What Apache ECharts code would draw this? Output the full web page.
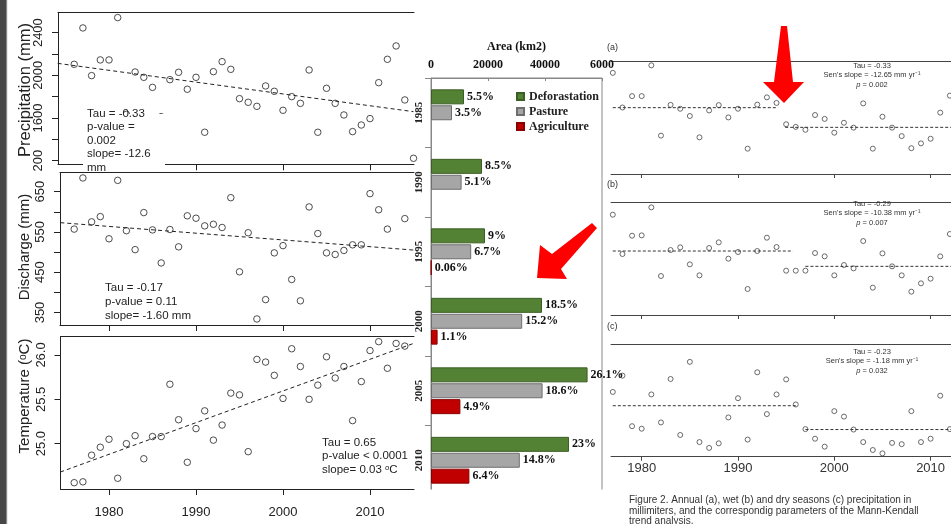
<!DOCTYPE html>
<html>
<head>
<meta charset="utf-8">
<script src="https://cdn.jsdelivr.net/npm/echarts@6/dist/echarts.min.js"></script>
<style>
  html, body { margin: 0; padding: 0; background: #fff; }
  #chart { width: 951px; height: 524px; }
</style>
</head>
<body>
<div id="chart"></div>
<script>
// ---- Hydro-climatic series, 1976-2015 ----
const years = [1976, 1977, 1978, 1979, 1980, 1981, 1982, 1983, 1984, 1985,
               1986, 1987, 1988, 1989, 1990, 1991, 1992, 1993, 1994, 1995,
               1996, 1997, 1998, 1999, 2000, 2001, 2002, 2003, 2004, 2005,
               2006, 2007, 2008, 2009, 2010, 2011, 2012, 2013, 2014, 2015];

const precipitation = [2103, 2444, 1997, 2144, 2144, 2541, 1634, 2031, 1981, 1887,
                       1612, 1959, 2028, 1869, 1981, 1466, 2034, 2128, 2056, 1781,
                       1747, 1709, 1900, 1850, 1672, 1800, 1737, 2050, 1466, 1878,
                       1737, 1628, 1472, 1534, 1594, 1931, 2150, 2275, 1769, 1222];

const discharge = [557, 684, 575, 588, 533, 678, 553, 506, 598, 555,
                   473, 556, 513, 590, 584, 565, 569, 561, 635, 451,
                   548, 334, 382, 498, 516, 432, 379, 612, 546, 498,
                   494, 504, 518, 518, 645, 605, 557, null, 583, null];

const temperature = [24.56, 24.57, 24.87, 24.96, 25.05, 24.61, 25.00, 25.09, 24.83, 25.08,
                     25.08, 25.67, 25.27, 24.79, 25.17, 25.37, 25.04, 25.21, 25.57, 25.55,
                     24.91, 25.95, 25.92, 25.77, 25.51, 26.07, 25.87, 25.50, 25.66, 25.98,
                     25.74, 25.87, 25.26, 25.70, 26.05, 26.15, 25.85, 26.13, 26.10, null];

// Sen's-slope trend lines (start / end of the fitted line)
const precipTrendYears = [1974.1, 2015.0];
const precipTrend = [2112, 1659];
const dischargeTrendYears = [1974.4, 2015.0];
const dischargeTrend = [573, 505];
const temperatureTrendYears = [1974.4, 2015.0];
const temperatureTrend = [24.68, 26.13];

// Axis ticks and labels of the three left plots
const yearTicks = [1980, 1990, 2000, 2010];
const precipTicks = [1200, 1400, 1600, 1800, 2000, 2200, 2400];
const precipLabels = [1200, 1600, 2000, 2400];
const dischargeTicks = [350, 400, 450, 500, 550, 600, 650];
const dischargeLabels = [350, 450, 550, 650];
const temperatureTicks = [25.0, 25.5, 26.0];

// ---- Land-use change (percent of basin area) ----
const landUseYears = ['1985', '1990', '1995', '2000', '2005', '2010'];
const deforestationPct = [5.5, 8.5, 9, 18.5, 26.1, 23];
const pasturePct = [3.5, 5.1, 6.7, 15.2, 18.6, 14.8];
const agriculturePct = [null, null, 0.06, 1.1, 4.9, 6.4];
const KM2_PER_PCT = 2105;          // basin area / 100
const areaTicks = [0, 20000, 40000, 60000];

// ---- Seasonal precipitation 1977-2012 (wet / dry season, mm) ----
const seasonYears = years.slice(1, 37);
const wetSeason = [1912, 1440, 1660, 1664, 2000, 1176, 1488, 1520, 1316, 1184,
                   1512, 1580, 1384, 1464, 1020, 1476, 1636, 1524, 1240, 1240,
                   1240, 1452, 1412, 1184, 1308, 1268, 1596, 1036, 1448, 1292,
                   1184, 988, 1088, 1144, 1412, 1680];
const drySeason = [488, 527, 406, 400, 482, 415, 519, 385, 560, 368,
                   354, 365, 427, 473, 374, 535, 435, 482, 518, 458,
                   399, 376, 357, 442, 429, 398, 368, 349, 341, 366,
                   363, 442, 368, 376, 479, 399];

// Sub-period means either side of the change point
const annualSegYears = [[1977, 1994.0], [1994.9, 2012.2]];
const annualSegMeans = [1995, 1741];
const wetSegYears = [[1977, 1995.7], [1997, 2012.2]];
const wetSegMeans = [1476, 1292];
const drySegYears = [[1977, 1996.1], [1997, 2012.2]];
const drySegMeans = [455, 398];

// ------------------------------------------------------------------
const SANS = "'Liberation Sans', Arial, sans-serif";
const SERIF = "'Liberation Serif', 'Times New Roman', serif";
const INK = '#222';
const plain = v => String(v);

const grid = [], xAxis = [], yAxis = [], series = [];

function pair(xs, ys) {
  const out = [];
  xs.forEach((x, i) => { if (ys[i] != null) out.push([x, ys[i]]); });
  return out;
}

// Left plots: 1980 sits at x=109 px, 8.7 px per year, right edge at 414 px
function leftPlot(cfg) {
  const g = grid.length;
  const left = cfg.left, right = 414;
  const xmin = 1980 - (109 - left) / 8.7, xmax = 1980 + (right - 109) / 8.7;
  grid.push({ left: left, top: cfg.top, width: right - left, height: cfg.height });
  const xb = xAxis.length;
  xAxis.push({
    gridIndex: g, type: 'value', min: xmin, max: xmax, position: 'bottom',
    axisLine: { show: true, onZero: false, lineStyle: { color: INK, width: 1 } },
    axisTick: { show: true, customValues: yearTicks, length: 6, lineStyle: { color: INK } },
    axisLabel: { show: cfg.showYears, customValues: yearTicks, margin: 17, formatter: plain,
                 fontFamily: SANS, fontSize: 13, color: INK },
    splitLine: { show: false }
  });
  xAxis.push({
    gridIndex: g, type: 'value', min: xmin, max: xmax, position: 'top',
    axisLine: { show: true, onZero: false, lineStyle: { color: INK, width: 1 } },
    axisTick: { show: false }, axisLabel: { show: false }, splitLine: { show: false }
  });
  const yi = yAxis.length;
  yAxis.push({
    gridIndex: g, type: 'value', min: cfg.ymin, max: cfg.ymax,
    axisLine: { show: true, onZero: false, lineStyle: { color: INK, width: 1 } },
    axisTick: { show: true, customValues: cfg.ticks, length: 6, lineStyle: { color: INK } },
    axisLabel: { customValues: cfg.labels, rotate: 90, margin: 13, fontFamily: SANS,
                 fontSize: 13, color: INK, formatter: cfg.fmt },
    splitLine: { show: false }
  });
  series.push({
    type: 'scatter', xAxisIndex: xb, yAxisIndex: yi, clip: true, silent: true,
    data: pair(years, cfg.values), symbol: 'circle', symbolSize: 6.5,
    itemStyle: { color: 'rgba(0,0,0,0)', borderColor: INK, borderWidth: 1 }
  });
  series.push({
    type: 'line', xAxisIndex: xb, yAxisIndex: yi, silent: true, symbol: 'none',
    data: pair(cfg.trendYears, cfg.trend),
    lineStyle: { color: INK, width: 1, type: [4, 3] }
  });
}

leftPlot({ left: 58, top: 12.3, height: 152, ymin: 1165.6, ymax: 2590.6,
           ticks: precipTicks, labels: precipLabels, values: precipitation,
           trendYears: precipTrendYears, trend: precipTrend, showYears: false,
           fmt: v => (v === 1200 ? '200' : String(v)) });
leftPlot({ left: 60, top: 172.7, height: 152.3, ymin: 319, ymax: 697,
           ticks: dischargeTicks, labels: dischargeLabels, values: discharge,
           trendYears: dischargeTrendYears, trend: dischargeTrend, showYears: false,
           fmt: plain });
leftPlot({ left: 60.5, top: 336.7, height: 152.3, ymin: 24.489, ymax: 26.206,
           ticks: temperatureTicks, labels: temperatureTicks, values: temperature,
           trendYears: temperatureTrendYears, trend: temperatureTrend, showYears: true,
           fmt: v => v.toFixed(1) });

// ---- Land-use bar chart ----
const barGrid = grid.length;
grid.push({ left: 431, top: 78, width: 171, height: 417, show: true,
            borderColor: '#888', borderWidth: 1, backgroundColor: 'transparent' });
const barX = xAxis.length;
xAxis.push({
  gridIndex: barGrid, type: 'value', position: 'top', min: 0, max: 60000, interval: 20000,
  name: 'Area (km2)', nameLocation: 'middle', nameGap: 25,
  nameTextStyle: { fontFamily: SERIF, fontWeight: 'bold', fontSize: 12, color: '#111' },
  axisLine: { show: true, lineStyle: { color: '#888' } },
  axisTick: { show: true, inside: true, length: 3, lineStyle: { color: '#888' } },
  axisLabel: { margin: 7, fontFamily: SERIF, fontWeight: 'bold', fontSize: 12, color: '#111',
               customValues: areaTicks,
               formatter: v => (v === 60000 ? '6000' : String(v)) },
  splitLine: { show: false }
});
const barY = yAxis.length;
yAxis.push({
  gridIndex: barGrid, type: 'category', data: landUseYears, inverse: true,
  axisLine: { show: true, lineStyle: { color: '#888' } },
  axisTick: { show: true, length: 6, alignWithLabel: false, lineStyle: { color: '#888' } },
  axisLabel: { rotate: 90, margin: 6, fontFamily: SERIF, fontWeight: 'bold', fontSize: 11, color: '#222' },
  splitLine: { show: false }
});

function landUseSeries(name, pct, fill, edge) {
  series.push({
    type: 'bar', name: name, xAxisIndex: barX, yAxisIndex: barY, silent: true,
    data: pct.map(p => (p == null ? null : p * KM2_PER_PCT)),
    barWidth: 15, barGap: '6%',
    itemStyle: { color: fill, borderColor: edge, borderWidth: 1 },
    label: {
      show: true, position: 'right', distance: 3,
      formatter: p => pct[p.dataIndex] + '%',
      fontFamily: SERIF, fontWeight: 'bold', fontSize: 12, color: '#111'
    }
  });
}
landUseSeries('Deforastation', deforestationPct, '#548235', '#3b5e24');
landUseSeries('Pasture', pasturePct, '#a6a6a6', '#6e6e6e');
landUseSeries('Agriculture', agriculturePct, '#c00000', '#8a0000');

// ---- Seasonal panels (a), (b), (c): 1980 at 641.7 px, 9.63 px per year ----
function seasonPlot(cfg) {
  const g = grid.length;
  const left = 611, right = 951;
  const xmin = 1980 - (641.7 - left) / 9.63, xmax = 1980 + (right - 641.7) / 9.63;
  grid.push({ left: left, top: cfg.top, width: right - left, height: cfg.height });
  const xb = xAxis.length;
  xAxis.push({
    gridIndex: g, type: 'value', min: xmin, max: xmax, position: 'bottom',
    axisLine: { show: true, onZero: false, lineStyle: { color: '#444', width: 1 } },
    axisTick: { show: true, customValues: yearTicks, length: 4, lineStyle: { color: '#444' } },
    axisLabel: { show: cfg.showYears, customValues: yearTicks, margin: 5, formatter: plain,
                 fontFamily: SANS, fontSize: 13, color: '#333' },
    splitLine: { show: false }
  });
  xAxis.push({
    gridIndex: g, type: 'value', min: xmin, max: xmax, position: 'top',
    axisLine: { show: true, onZero: false, lineStyle: { color: '#444', width: 1 } },
    axisTick: { show: false }, axisLabel: { show: false }, splitLine: { show: false }
  });
  const yi = yAxis.length;
  yAxis.push({ gridIndex: g, type: 'value', min: cfg.ymin, max: cfg.ymax, show: false,
               splitLine: { show: false } });
  series.push({
    type: 'scatter', xAxisIndex: xb, yAxisIndex: yi, clip: true, silent: true,
    data: pair(cfg.years, cfg.values), symbol: 'circle', symbolSize: 5,
    itemStyle: { color: 'rgba(0,0,0,0)', borderColor: '#333', borderWidth: 0.9 }
  });
  cfg.segYears.forEach((span, i) => {
    series.push({
      type: 'line', xAxisIndex: xb, yAxisIndex: yi, silent: true, symbol: 'none', clip: true,
      data: span.map(x => [x, cfg.segMeans[i]]),
      lineStyle: { color: '#333', width: 1, type: [3, 2] }
    });
  });
}
seasonPlot({ top: 61, height: 113, ymin: 1139, ymax: 2597, years: years, values: precipitation,
             segYears: annualSegYears, segMeans: annualSegMeans, showYears: false });
seasonPlot({ top: 202.7, height: 112.3, ymin: 708, ymax: 2056, years: seasonYears, values: wetSeason,
             segYears: wetSegYears, segMeans: wetSegMeans, showYears: false });
seasonPlot({ top: 344.3, height: 112.4, ymin: 333, ymax: 602, years: seasonYears, values: drySeason,
             segYears: drySegYears, segMeans: drySegMeans, showYears: true });

// ---- Text, panel furniture and arrows ----
function mkStats(cx, y0, tau, slope, p) {
  const st = { fontFamily: SANS, fontSize: 7.5, fill: '#333', align: 'center', verticalAlign: 'middle' };
  return [
    { type: 'text', x: cx, y: y0, z: 60, style: Object.assign({ text: 'Tau = ' + tau }, st) },
    { type: 'text', x: cx, y: y0 + 9, z: 60, style: Object.assign({ text: "Sen's slope = " + slope + ' mm yr\u207B\u00B9' }, st) },
    { type: 'text', x: cx, y: y0 + 19, z: 60, style: Object.assign({
        text: '{i|p} = ' + p,
        rich: { i: { fontStyle: 'italic', fontFamily: SANS, fontSize: 7.5, fill: '#333' } } }, st) }
  ];
}

const graphic = [
  // dark strip along the left edge
  { type: 'rect', z: 70, shape: { x: 0, y: 0, width: 7, height: 524 }, style: { fill: '#474747' } },
  { type: 'rect', z: 70, shape: { x: 6, y: 0, width: 1.2, height: 524 }, style: { fill: '#8a8a8a' } },

  // axis titles of the left plots
  { type: 'text', x: 25, y: 90, rotation: Math.PI / 2, z: 60,
    style: { text: 'Precipitation (mm)', fontFamily: SANS, fontSize: 16.5, fill: INK, align: 'center', verticalAlign: 'middle' } },
  { type: 'text', x: 25, y: 247, rotation: Math.PI / 2, z: 60,
    style: { text: 'Discharge (mm)', fontFamily: SANS, fontSize: 15, fill: INK, align: 'center', verticalAlign: 'middle' } },
  { type: 'text', x: 25, y: 396, rotation: Math.PI / 2, z: 60,
    style: { text: 'Temperature (\u1D52C)', fontFamily: SANS, fontSize: 15, fill: INK, align: 'center', verticalAlign: 'middle' } },

  // Mann-Kendall boxes of the left plots
  { type: 'rect', z: 55, shape: { x: 83, y: 114, width: 82, height: 57 }, style: { fill: '#fff' } },
  { type: 'text', x: 87, y: 107, z: 60,
    style: { text: 'Tau = -0.33\np-value =\n0.002\nslope= -12.6\nmm', fontFamily: SANS, fontSize: 11.5,
             lineHeight: 13.5, fill: INK, align: 'left', verticalAlign: 'top' } },
  { type: 'text', x: 105, y: 281, z: 60,
    style: { text: 'Tau = -0.17\np-value = 0.11\nslope= -1.60 mm', fontFamily: SANS, fontSize: 11.5,
             lineHeight: 14, fill: INK, align: 'left', verticalAlign: 'top' } },
  { type: 'text', x: 322, y: 436, z: 60,
    style: { text: 'Tau = 0.65\np-value < 0.0001\nslope= 0.03 \u1D52C', fontFamily: SANS, fontSize: 11.5,
             lineHeight: 13.5, fill: INK, align: 'left', verticalAlign: 'top' } },

  // lower end of the bar panel
  { type: 'rect', z: 55, shape: { x: 416, y: 489.5, width: 192, height: 35 }, style: { fill: '#fff' } },

  // panel letters
  { type: 'text', x: 607, y: 43, z: 60, style: { text: '(a)', fontFamily: SANS, fontSize: 9, fill: '#333' } },
  { type: 'text', x: 607, y: 180, z: 60, style: { text: '(b)', fontFamily: SANS, fontSize: 9, fill: '#333' } },
  { type: 'text', x: 607, y: 322, z: 60, style: { text: '(c)', fontFamily: SANS, fontSize: 9, fill: '#333' } },

  ...mkStats(872, 66, '-0.33', '-12.65', '0.002'),
  ...mkStats(872, 204, '-0.29', '-10.38', '0.007'),
  ...mkStats(872, 352, '-0.23', '-1.18', '0.032'),

  // caption
  { type: 'text', x: 629, y: 495, z: 60,
    style: { text: 'Figure 2. Annual (a), wet (b) and dry seasons (c) precipitation in\nmillimiters, and the correspondig parameters of the Mann-Kendall\ntrend analysis.',
             fontFamily: SANS, fontSize: 10, lineHeight: 10.5, fill: '#333', align: 'left', verticalAlign: 'top' } },

  // red arrows
  { type: 'polygon', z: 80,
    shape: { points: [[781, 26], [787, 26], [793, 82], [804, 82], [784, 103], [763, 82], [774, 82]] },
    style: { fill: '#ff0000' } },
  { type: 'polygon', z: 80,
    shape: { points: [[537, 278], [540, 245], [552, 254], [592, 223], [597, 228], [561, 269], [567, 279]] },
    style: { fill: '#ff0000' } }
];

const option = {
  animation: false,
  backgroundColor: '#fff',
  grid: grid,
  xAxis: xAxis,
  yAxis: yAxis,
  legend: {
    data: ['Deforastation', 'Pasture', 'Agriculture'],
    orient: 'vertical', left: 511, top: 85, itemWidth: 7, itemHeight: 7, itemGap: 2,
    icon: 'rect', selectedMode: false,
    textStyle: { fontFamily: SERIF, fontWeight: 'bold', fontSize: 12, color: '#222', lineHeight: 13 }
  },
  series: series,
  graphic: graphic
};

const chart = echarts.init(document.getElementById('chart'));
chart.setOption(option);
</script>
</body>
</html>
